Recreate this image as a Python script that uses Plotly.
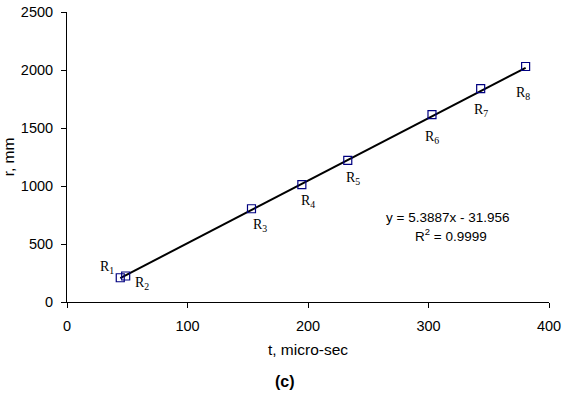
import numpy as np
import plotly.graph_objects as go

# Data
t_us = [44.2, 48.7, 153.1, 194.9, 233.0, 302.9, 343.3, 380.6]
r_mm = [209, 224, 804, 1011, 1221, 1615, 1839, 2030]
point_labels = ["R<sub>1</sub>", "R<sub>2</sub>", "R<sub>3</sub>", "R<sub>4</sub>",
                "R<sub>5</sub>", "R<sub>6</sub>", "R<sub>7</sub>", "R<sub>8</sub>"]
slope = 5.3887
intercept = -31.956
r_squared = 0.9999
x_ticks = [0, 100, 200, 300, 400]
y_ticks = [0, 500, 1000, 1500, 2000, 2500]

# label pixel offsets (layout only)
label_dx = [-13, 16, 9, 6, 5, 0, 0, -3]
label_dy = [10, -7, -17, -17, -18, -23, -22, -27]

fit_x = [min(t_us), max(t_us)]
fit_y = [slope * v + intercept for v in fit_x]

# plot-area pixels in the window
L, R, T, B = 67, 549, 12, 302
W, H = 565, 397

fig = go.Figure()
fig.add_trace(go.Scatter(x=fit_x, y=fit_y, mode="lines",
                         line=dict(color="black", width=2), hoverinfo="skip"))
fig.add_trace(go.Scatter(x=t_us, y=r_mm, mode="markers",
                         marker=dict(symbol="square-open", size=8,
                                     color="#000080", line=dict(width=1.2, color="#000080"))))

for x, y, lab, dx, dy in zip(t_us, r_mm, point_labels, label_dx, label_dy):
    fig.add_annotation(x=x, y=y, text=lab, showarrow=False, xshift=dx, yshift=dy,
                       font=dict(family="Liberation Serif", size=14, color="black"))

def px(xp):
    return (xp - L) / (R - L)

def py(yp):
    return (B - yp) / (B - T)

fig.add_annotation(xref="paper", yref="paper", x=px(447), y=py(217),
                   xanchor="center", yanchor="middle", showarrow=False,
                   text=f"y = {slope}x - {abs(intercept)}",
                   font=dict(family="Liberation Sans", size=13.5, color="black"))
fig.add_annotation(xref="paper", yref="paper", x=px(451), y=py(235),
                   xanchor="center", yanchor="middle", showarrow=False,
                   text=f"R<sup>2</sup> = {r_squared}",
                   font=dict(family="Liberation Sans", size=13.5, color="black"))
fig.add_annotation(xref="paper", yref="paper", x=px(285), y=py(381),
                   xanchor="center", yanchor="middle", showarrow=False,
                   text="<b>(c)</b>",
                   font=dict(family="Liberation Sans", size=16, color="black"))

fig.update_layout(
    width=W, height=H,
    margin=dict(l=L, r=W - R, t=T, b=H - B),
    paper_bgcolor="white", plot_bgcolor="white",
    showlegend=False,
    font=dict(family="Liberation Sans", size=14.5, color="black"),
    xaxis=dict(range=[0, 400], tickvals=x_ticks, showgrid=False, zeroline=False,
               showline=True, linecolor="black", linewidth=1, automargin=False,
               ticks="outside", ticklen=5, tickcolor="black", ticklabelstandoff=6,
               ticklabeloverflow="allow",
               title=dict(text="t, micro-sec", standoff=10, font=dict(size=15.5))),
    yaxis=dict(range=[0, 2500], tickvals=y_ticks, showgrid=False, zeroline=False,
               showline=True, linecolor="black", linewidth=1, automargin=False,
               ticks="outside", ticklen=5, tickcolor="black", ticklabelstandoff=5,
               ticklabeloverflow="allow",
               title=dict(text="r, mm", standoff=8, font=dict(size=15.5))),
)

fig.write_html("out.html", config={"displayModeBar": False},
               post_script="document.body.style.margin='0';document.body.style.overflow='hidden';")
